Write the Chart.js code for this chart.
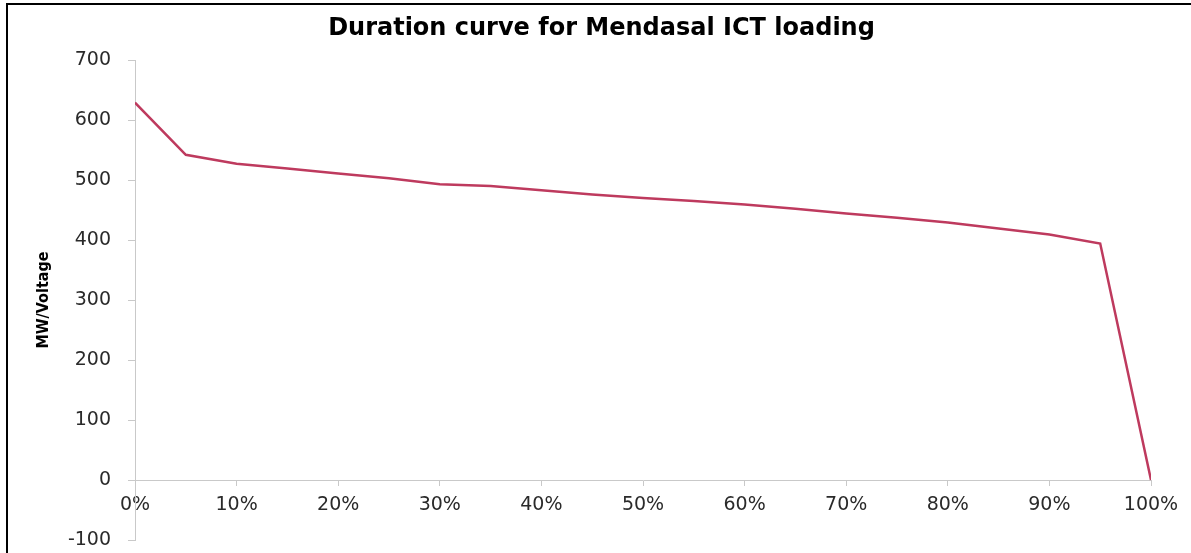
<!DOCTYPE html>
<html lang="en">
<head>
    <meta charset="UTF-8">
    <title>Duration curve for Mendasal ICT loading</title>
    <script src="https://cdn.jsdelivr.net/npm/chart.js"></script>
    <style>
        html, body {
            margin: 0;
            padding: 0;
            background: #ffffff;
        }
        #wrap {
            position: relative;
            width: 1191px;
            height: 553px;
            overflow: hidden;
        }
        #frame {
            position: absolute;
            left: 6px;
            top: 3px;
            width: 1300px;
            height: 700px;
            border-left: 2px solid #000;
            border-top: 2px solid #000;
            pointer-events: none;
        }
    </style>
</head>
<body>
    <div id="wrap">
        <canvas id="durationChart" width="1191" height="553"></canvas>
        <div id="frame"></div>
    </div>

    <script>
        // percent of time vs loading (MW)
        const timePercent = [0, 5, 10, 15, 20, 25, 30, 35, 40, 45, 50, 55, 60, 65, 70, 75, 80, 85, 90, 95, 100];
        const loadingMW = [629, 542, 527, 519, 511, 503, 493, 490, 483, 476, 470, 465, 459, 452, 444, 437, 429, 419, 409, 394, 0];

        const xTickValues = [0, 10, 20, 30, 40, 50, 60, 70, 80, 90, 100];
        const yTickValues = [-100, 0, 100, 200, 300, 400, 500, 600, 700];

        const axisGray = '#c9c9c9';
        const labelFont = { family: 'DejaVu Sans', size: 19 };

        const points = timePercent.map((t, i) => ({ x: t, y: loadingMW[i] }));

        const ctx = document.getElementById('durationChart').getContext('2d');
        new Chart(ctx, {
            type: 'line',
            data: {
                datasets: [{
                    label: 'Loading',
                    data: points,
                    borderColor: '#be3a5e',
                    borderWidth: 2.5,
                    pointRadius: 0,
                    tension: 0,
                    fill: false
                }]
            },
            options: {
                responsive: false,
                animation: false,
                devicePixelRatio: 1,
                layout: {
                    padding: { left: 52, right: 40, top: 5, bottom: 13 }
                },
                plugins: {
                    legend: { display: false },
                    tooltip: { enabled: false },
                    title: {
                        display: true,
                        text: 'Duration curve for Mendasal ICT loading',
                        color: '#000',
                        font: { family: 'DejaVu Sans', size: 24, weight: 'bold' },
                        padding: { top: 9.6, bottom: 16.6 }
                    }
                },
                scales: {
                    x: {
                        type: 'linear',
                        position: { y: 0 },
                        min: 0,
                        max: 100,
                        afterBuildTicks: (scale) => {
                            scale.ticks = xTickValues.map(v => ({ value: v }));
                        },
                        ticks: {
                            color: '#2a2a2a',
                            font: labelFont,
                            padding: 9,
                            maxRotation: 0,
                            callback: (v) => v + '%'
                        },
                        grid: {
                            drawOnChartArea: false,
                            drawTicks: true,
                            tickLength: 5,
                            color: axisGray
                        },
                        border: { color: axisGray, width: 1 }
                    },
                    y: {
                        min: -100,
                        max: 700,
                        afterBuildTicks: (scale) => {
                            scale.ticks = yTickValues.map(v => ({ value: v }));
                        },
                        afterFit: (scale) => {
                            // fixed axis width, and no extra room reserved above/below
                            scale.width = 83;
                            scale.paddingTop = 0;
                            scale.paddingBottom = 0;
                        },
                        ticks: {
                            color: '#2a2a2a',
                            font: labelFont,
                            padding: 17
                        },
                        grid: {
                            drawOnChartArea: false,
                            drawTicks: true,
                            tickLength: 7,
                            color: axisGray
                        },
                        border: { color: axisGray, width: 1 },
                        title: {
                            display: true,
                            text: 'MW/Voltage',
                            color: '#000',
                            font: { family: "'DejaVu Sans Condensed', 'DejaVu Sans', sans-serif", size: 16, weight: 'bold' },
                            padding: { top: -17.6, bottom: 0 }
                        }
                    }
                }
            }
        });
    </script>
</body>
</html>
